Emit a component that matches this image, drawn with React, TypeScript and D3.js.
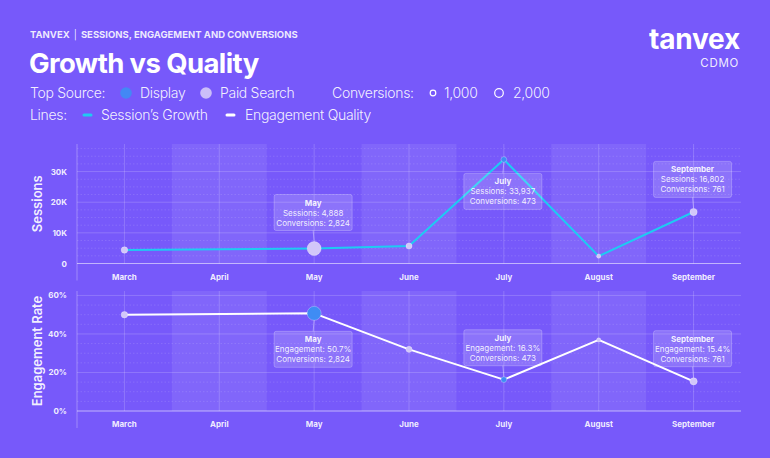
import React from 'react';
import * as d3 from 'd3';

const months = ['March', 'April', 'May', 'June', 'July', 'August', 'September'];
const pointMonths = ['March', 'May', 'June', 'July', 'August', 'September'];
const sessions = [4400, 4888, 5700, 33937, 2400, 16802];
const engagement = [50.0, 50.7, 32.0, 16.3, 36.9, 15.4];
const conversions = [620, 2824, 540, 473, 260, 761];
const sourceSessions = ['Paid Search', 'Paid Search', 'Paid Search', 'Display', 'Paid Search', 'Paid Search'];
const sourceEngagement = ['Paid Search', 'Display', 'Paid Search', 'Display', 'Paid Search', 'Paid Search'];
const sessionTicks = [0, 10000, 20000, 30000];
const engagementTicks = [0, 20, 40, 60];
const shadedMonths = ['April', 'June', 'August'];
const sessionCallouts = [
  { month: 'May', side: 'above' },
  { month: 'July', side: 'below' },
  { month: 'September', side: 'above' },
];
const engagementCallouts = [
  { month: 'May', side: 'below' },
  { month: 'July', side: 'above' },
  { month: 'September', side: 'above' },
];
const legendSources = ['Display', 'Paid Search'];
const legendConversions = [1000, 2000];

const BG = '#7759FA';
const CYAN = '#1ECBF2';
const BLUE = '#3F8CF4';
const LAV = '#D2C7F9';
const FONT = 'Inter, "Noto Sans", sans-serif';

const sourceColor = (s: string) => (s === 'Display' ? BLUE : LAV);

const x = d3.scaleBand<string>().domain(months).range([77, 741]).paddingInner(0).paddingOuter(0);
const cx = (m: string) => (x(m) as number) + x.bandwidth() / 2;
const rScale = d3.scaleSqrt().domain([0, 2824]).range([0, 7]);

type PanelProps = {
  top: number;
  bottom: number;
  yMax: number;
  ticks: number[];
  minorStep: number;
  values: number[];
  sources: string[];
  lineColor: string;
  tickFmt: (v: number) => string;
  title: string;
  callouts: { month: string; side: string }[];
  calloutLabel: string;
  calloutFmt: (v: number) => string;
};

function Panel(p: PanelProps) {
  const y = d3.scaleLinear().domain([0, p.yMax]).range([p.bottom, p.top]);
  const minor = d3.range(p.minorStep, p.yMax, p.minorStep).filter((v) => !p.ticks.includes(v));
  const line = d3
    .line<number>()
    .x((_, i) => cx(pointMonths[i]))
    .y((v) => y(v));
  const left = x.range()[0];
  const right = x.range()[1];
  return (
    <g>
      {shadedMonths.map((m) => (
        <rect key={m} x={x(m)} y={p.top} width={x.bandwidth()} height={p.bottom - p.top} fill="#fff" fillOpacity={0.08} />
      ))}
      {minor.map((v) => (
        <line key={'mn' + v} x1={left} x2={right} y1={y(v)} y2={y(v)} stroke="#fff" strokeOpacity={0.13} strokeDasharray="1.5,2" />
      ))}
      {p.ticks.filter((v) => v > 0).map((v) => (
        <line key={'mj' + v} x1={left} x2={right} y1={y(v)} y2={y(v)} stroke="#fff" strokeOpacity={0.18} />
      ))}
      {months.map((m) => (
        <line key={'v' + m} x1={cx(m)} x2={cx(m)} y1={p.top} y2={p.bottom} stroke="#fff" strokeOpacity={0.18} />
      ))}
      <line x1={left} x2={left} y1={p.top} y2={p.bottom + 17} stroke="#fff" strokeOpacity={0.3} />
      <line x1={left} x2={right} y1={p.bottom} y2={p.bottom} stroke="#fff" strokeOpacity={0.55} strokeWidth={1.2} />
      {p.ticks.map((v) => (
        <text key={'t' + v} x={67} y={y(v) + 3} textAnchor="end" fontSize={8} fontWeight={700} fill="#fff" fillOpacity={0.9} fontFamily={FONT}>
          {p.tickFmt(v)}
        </text>
      ))}
      {months.map((m) => (
        <text key={'xl' + m} x={cx(m)} y={p.bottom + 16} textAnchor="middle" fontSize={8} fontWeight={700} fill="#fff" fillOpacity={0.9} fontFamily={FONT}>
          {m}
        </text>
      ))}
      <text
        transform={`translate(42,${(p.top + p.bottom) / 2}) rotate(-90)`}
        textAnchor="middle"
        fontSize={13}
        fontWeight={600}
        fill="#fff"
        fillOpacity={0.92}
        fontFamily={FONT}
      >
        {p.title}
      </text>
      <path d={line(p.values) || ''} fill="none" stroke={p.lineColor} strokeWidth={2} strokeLinejoin="round" />
      {p.values.map((v, i) => (
        <circle
          key={'c' + i}
          cx={cx(pointMonths[i])}
          cy={y(v)}
          r={rScale(conversions[i])}
          fill={sourceColor(p.sources[i])}
          stroke="#fff"
          strokeOpacity={0.35}
          strokeWidth={0.8}
        />
      ))}
      {p.callouts.map((c) => {
        const i = pointMonths.indexOf(c.month);
        const px = cx(c.month);
        const py = y(p.values[i]);
        const r = rScale(conversions[i]);
        const w = 78;
        const h = 36;
        const gap = 11;
        const boxY = c.side === 'above' ? py - r - gap - h : py + r + gap;
        const lineY1 = c.side === 'above' ? boxY + h : boxY;
        const lineY2 = c.side === 'above' ? py - r : py + r;
        return (
          <g key={'co' + c.month} fontFamily={FONT}>
            <line x1={px - 1} x2={px} y1={lineY1} y2={lineY2} stroke="#fff" strokeOpacity={0.45} strokeWidth={0.8} />
            <rect x={px - w / 2 - 1} y={boxY} width={w} height={h} rx={2} fill="#fff" fillOpacity={0.16} stroke="#fff" strokeOpacity={0.3} strokeWidth={0.8} />
            <text x={px - 1} y={boxY + 11} textAnchor="middle" fontSize={8} fontWeight={700} fill="#fff" fillOpacity={0.92}>
              {c.month}
            </text>
            <text x={px - 1} y={boxY + 21} textAnchor="middle" fontSize={8} fill="#fff" fillOpacity={0.9}>
              {p.calloutLabel}: {p.calloutFmt(p.values[i])}
            </text>
            <text x={px - 1} y={boxY + 31} textAnchor="middle" fontSize={8} fill="#fff" fillOpacity={0.9}>
              Conversions: {d3.format(',')(conversions[i])}
            </text>
          </g>
        );
      })}
    </g>
  );
}

export default function App() {
  const fmtK = (v: number) => (v === 0 ? '0' : `${v / 1000}K`);
  return (
    <svg width={770} height={458} style={{ position: 'absolute', left: 0, top: 0, display: 'block' }}>
      <rect width={770} height={458} fill={BG} />
      <g fontFamily={FONT} fill="#fff">
        <text x={30} y={38} fontSize={9.5} fontWeight={700} fillOpacity={0.88}>
          TANVEX<tspan dx={4} fontWeight={400}>|</tspan>
          <tspan dx={4}>SESSIONS, ENGAGEMENT AND CONVERSIONS</tspan>
        </text>
        <text x={29} y={73} fontSize={27.5} fontWeight={700} letterSpacing={-0.6}>
          Growth vs Quality
        </text>
        <text x={740} y={48.5} fontSize={28} fontWeight={700} textAnchor="end" letterSpacing={-0.2}>
          tanvex
        </text>
        <text x={739} y={67} fontSize={11.5} fontWeight={400} textAnchor="end" letterSpacing={0.7} fillOpacity={0.9}>
          CDMO
        </text>
        <g fontSize={14} fontWeight={300} fillOpacity={0.92}>
          <text x={30} y={98} letterSpacing={-0.3}>Top Source:</text>
          {legendSources.map((s, i) => (
            <g key={s}>
              <circle cx={126 + i * 80} cy={93} r={5.8} fill={sourceColor(s)} />
              <text x={140 + i * 80} y={98} letterSpacing={-0.3}>{s}</text>
            </g>
          ))}
          <text x={332} y={98} letterSpacing={-0.3}>Conversions:</text>
          {legendConversions.map((c, i) => (
            <g key={c}>
              <circle cx={433 + i * 66} cy={93} r={i === 0 ? 2.8 : 4.3} fill="none" stroke="#fff" strokeWidth={1.2} />
              <text x={444 + i * 69} y={98} letterSpacing={-0.3}>{d3.format(',')(c)}</text>
            </g>
          ))}
          <text x={30} y={120} letterSpacing={-0.3}>Lines:</text>
          <line x1={84} x2={91} y1={115} y2={115} stroke={CYAN} strokeWidth={3} strokeLinecap="round" />
          <text x={101} y={120} letterSpacing={-0.3}>Session’s Growth</text>
          <line x1={227} x2={234} y1={115} y2={115} stroke="#fff" strokeWidth={3} strokeLinecap="round" />
          <text x={245} y={120} letterSpacing={-0.3}>Engagement Quality</text>
        </g>
      </g>
      <Panel
        top={144}
        bottom={263.5}
        yMax={39000}
        ticks={sessionTicks}
        minorStep={2500}
        values={sessions}
        sources={sourceSessions}
        lineColor={CYAN}
        tickFmt={fmtK}
        title="Sessions"
        callouts={sessionCallouts}
        calloutLabel="Sessions"
        calloutFmt={(v) => d3.format(',')(v)}
      />
      <Panel
        top={291}
        bottom={411}
        yMax={62.3}
        ticks={engagementTicks}
        minorStep={5}
        values={engagement}
        sources={sourceEngagement}
        lineColor="#fff"
        tickFmt={(v) => `${v}%`}
        title="Engagement Rate"
        callouts={engagementCallouts}
        calloutLabel="Engagement"
        calloutFmt={(v) => `${v.toFixed(1)}%`}
      />
    </svg>
  );
}
